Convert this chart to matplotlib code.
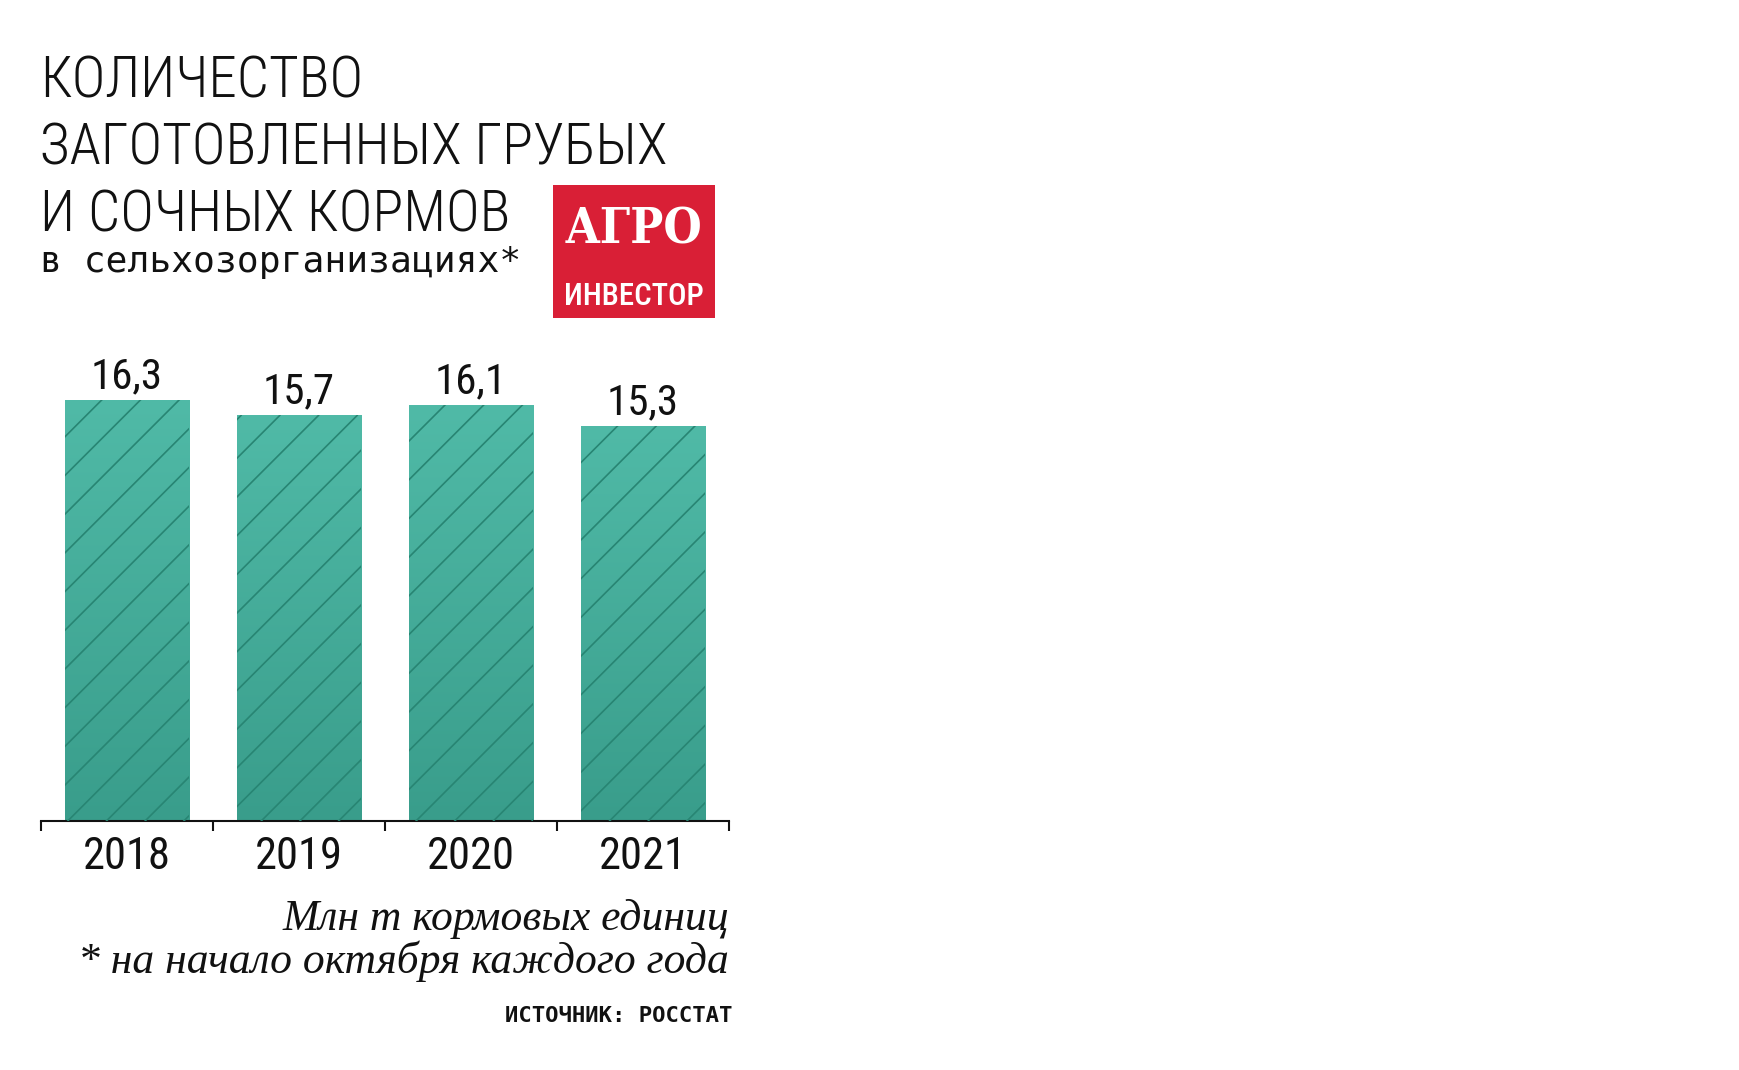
import matplotlib
matplotlib.use('Agg')
import matplotlib.pyplot as plt
import numpy as np
from matplotlib import font_manager as fm
from matplotlib.patches import Rectangle
from matplotlib.lines import Line2D
from matplotlib.transforms import IdentityTransform
from matplotlib.colors import LinearSegmentedColormap

# ---------------- data ----------------
years = ['2018', '2019', '2020', '2021']
values = [16.3, 15.7, 16.1, 15.3]
value_labels = ['16,3', '15,7', '16,1', '15,3']
title_lines = ['КОЛИЧЕСТВО', 'ЗАГОТОВЛЕННЫХ ГРУБЫХ', 'И СОЧНЫХ КОРМОВ']
subtitle = 'в сельхозорганизациях*'
unit_note = 'Млн т кормовых единиц'
footnote = '* на начало октября каждого года'
source = 'ИСТОЧНИК: РОССТАТ'
logo_top = 'АГРО'
logo_bottom = 'ИНВЕСТОР'

W, H = 1740, 1070
DPI = 100

# ---------------- fonts ----------------
def _w(e):
    w = e.weight
    if isinstance(w, str):
        return {'ultralight': 200, 'light': 300, 'normal': 400, 'regular': 400,
                'medium': 500, 'semibold': 600, 'bold': 700, 'heavy': 800,
                'black': 900}.get(w.lower(), 400)
    return int(w)


def pick(families, weight=400, condensed=True, style='normal'):
    for fam in families:
        c = [e for e in fm.fontManager.ttflist if e.name == fam and e.style == style]
        if condensed:
            c = [e for e in c if ('narrow' in fam.lower() or 'condensed' in fam.lower()
                                  or 'condensed' in str(e.stretch).lower())]
        if c:
            c.sort(key=lambda e: abs(_w(e) - weight))
            return fm.FontProperties(fname=c[0].fname)
    return None

cond_fams = ['Roboto Condensed', 'Liberation Sans Narrow', 'DejaVu Sans Condensed',
             'DejaVu Sans', 'Noto Sans', 'Open Sans']
mono_fams = ['DejaVu Sans Mono', 'Liberation Mono']
fp_title = pick(cond_fams, 300) or fm.FontProperties(family='DejaVu Sans')
fp_num = pick(cond_fams, 400) or fm.FontProperties(family='DejaVu Sans')
fp_sub = pick(mono_fams, 400, condensed=False) or fm.FontProperties(family='DejaVu Sans')
fp_src = (pick(mono_fams, 700, condensed=False)
          or fm.FontProperties(family='DejaVu Sans', weight='bold'))
fp_logo1 = (pick(['DejaVu Serif Condensed', 'DejaVu Serif'], 700)
            or fm.FontProperties(family='DejaVu Serif', weight='bold'))
fp_logo2 = pick(cond_fams, 500) or fm.FontProperties(family='DejaVu Sans')
fp_ital = (pick(['Liberation Serif'], 400, condensed=False, style='italic')
           or fm.FontProperties(family='DejaVu Serif', style='italic'))

fig = plt.figure(figsize=(W / DPI, H / DPI), dpi=DPI)
fig.patch.set_facecolor('white')
renderer = fig.canvas.get_renderer()


def sized(fp, s):
    f = fp.copy()
    f.set_size(s)
    return f


def fit(txt, fp, target_w):
    t = fig.text(0, 0, txt, fontproperties=sized(fp, 100))
    w = t.get_window_extent(renderer).width
    t.remove()
    return 100.0 * target_w / w


def ftext(x, y, txt, fp, size, ha='left', color='#111111', **kw):
    return fig.text(x / W, 1 - y / H, txt, fontproperties=sized(fp, size),
                    ha=ha, va='baseline', color=color, **kw)

# ---------------- title ----------------
ts = fit(title_lines[1], fp_title, 626)
for line, yb in zip(title_lines, [98, 164, 231]):
    ftext(40, yb, line, fp_title, ts)

ss = fit(subtitle, fp_sub, 480)
ftext(40, 272, subtitle, fp_sub, ss)

# ---------------- logo ----------------
fig.patches.append(Rectangle((553 / W, 1 - 318 / H), 162 / W, 133 / H,
                             transform=fig.transFigure, facecolor='#D91F36',
                             edgecolor='none', zorder=1))
ftext(634, 243, logo_top, fp_logo1, fit(logo_top, fp_logo1, 138), ha='center',
      color='white', zorder=2)
ftext(634, 305, logo_bottom, fp_logo2, fit(logo_bottom, fp_logo2, 140), ha='center',
      color='white', zorder=2)

# ---------------- bars ----------------
ax = fig.add_axes([41 / W, 1 - 821 / H, 688 / W, 465 / H])
ax.set_facecolor('none')
x = np.arange(len(years))
bw = 0.725
bars = ax.bar(x, values, width=bw, color='#47AE9C', zorder=1, linewidth=0)
ax.set_xlim(-0.5, len(years) - 0.5)
ax.set_ylim(0, 18)

cmap = LinearSegmentedColormap.from_list('g', ['#50BAA7', '#399D8B'])
grad = np.linspace(0, 1, 256).reshape(-1, 1)
for b in bars:
    x0, y0 = b.get_x(), b.get_y()
    im = ax.imshow(grad, extent=[x0, x0 + b.get_width(), y0, y0 + b.get_height()],
                   aspect='auto', cmap=cmap, origin='upper', zorder=2,
                   interpolation='bilinear')
    im.set_clip_path(b)
ax.set_xlim(-0.5, len(years) - 0.5)
ax.set_ylim(0, 18)

# diagonal hatch lines, in pixel space, clipped to each bar
spacing = 38.7
phase = 101.7 - (H - 400)
for b in bars:
    (px0, py0), (px1, py1) = ax.transData.transform(
        [(b.get_x(), 0), (b.get_x() + b.get_width(), b.get_height())])
    cmin = px0 - py1
    cmax = px1 - py0
    k0 = int(np.floor((cmin - phase) / spacing)) - 1
    k1 = int(np.ceil((cmax - phase) / spacing)) + 1
    for k in range(k0, k1 + 1):
        c = phase + k * spacing
        ln = Line2D([py0 + c, py1 + c], [py0, py1], transform=IdentityTransform(),
                    color='#288573', linewidth=1.2, zorder=3)
        ln.set_clip_path(b)
        fig.add_artist(ln)
    b.set_zorder(1)

for xi, v, lab in zip(x, values, value_labels):
    ax.annotate(lab, (xi, v), xytext=(0, 8.5), textcoords='offset points',
                ha='center', va='baseline', fontproperties=sized(fp_num, 31),
                color='#111111')

for s in ['top', 'left', 'right']:
    ax.spines[s].set_visible(False)
ax.spines['bottom'].set_linewidth(1.5)
ax.spines['bottom'].set_color('#111111')
ax.spines['bottom'].set_zorder(5)
ax.set_yticks([])
ax.set_xticks(x)
ax.set_xticklabels(years, fontproperties=sized(fp_num, 32), color='#111111')
ax.set_xticks(np.arange(-0.5, len(years)), minor=True)
ax.tick_params(axis='x', which='major', length=0, pad=11)
ax.tick_params(axis='x', which='minor', length=7.5, width=1.5, color='#111111',
               direction='out')

# ---------------- footer ----------------
fs = fit(footnote, fp_ital, 651)
ftext(729, 930, unit_note, fp_ital, fs, ha='right')
ftext(729, 973, footnote, fp_ital, fs, ha='right')
ftext(732, 1022, source, fp_src, fit(source, fp_src, 228), ha='right')

fig.savefig('out.png', dpi=DPI, facecolor='white')
